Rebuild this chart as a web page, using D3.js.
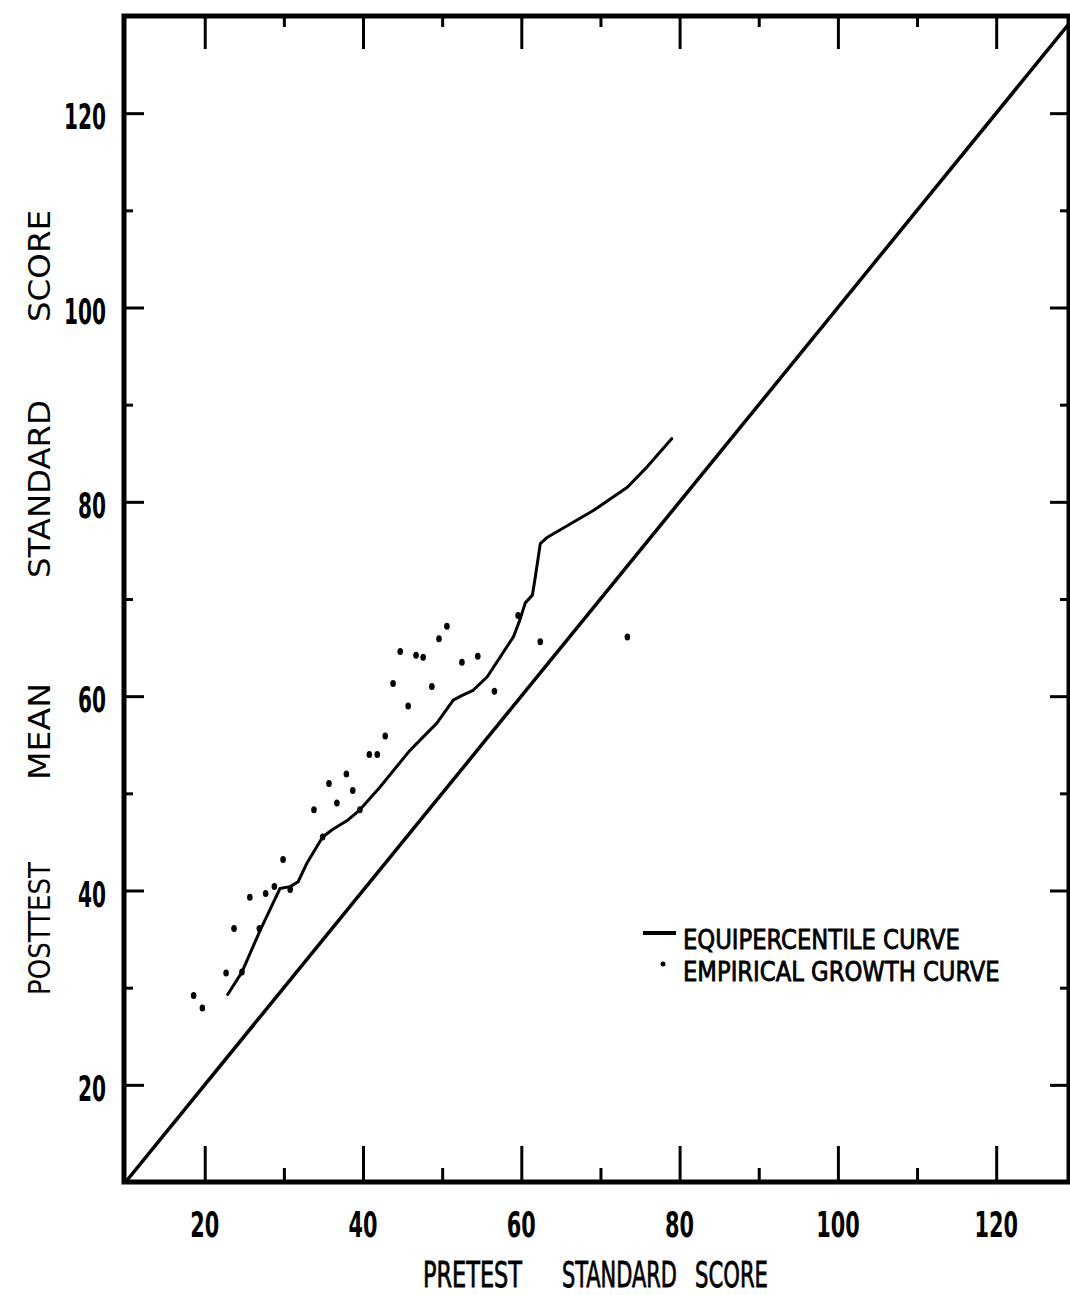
<!DOCTYPE html>
<html>
<head>
<meta charset="utf-8">
<script src="https://cdn.jsdelivr.net/npm/d3@7"></script>
<style>
  html, body { margin: 0; padding: 0; background: #fff; }
  svg { display: block; }
  text { fill: #000; }
</style>
</head>
<body>
<script>
// Equipercentile curve: pretest score -> posttest mean score
const equipercentilePretest  = [22.9, 24.7, 27.0, 29.5, 30.8, 31.8, 32.9, 34.9, 36.2, 38.0, 39.6, 42.1, 45.9, 49.3, 51.4, 52.6, 53.9, 55.7, 59.0, 59.8, 60.5, 61.4, 61.7, 62.4, 63.2, 69.1, 73.4, 75.9, 79.0];
const equipercentilePosttest = [29.3, 31.6, 35.9, 40.2, 40.4, 40.9, 42.8, 45.5, 46.3, 47.2, 48.3, 50.6, 54.4, 57.2, 59.6, 60.1, 60.6, 62.0, 66.1, 67.8, 69.6, 70.4, 71.9, 75.7, 76.3, 79.1, 81.5, 83.6, 86.5];

// Empirical growth curve: observed posttest means
const empiricalPretest  = [18.6, 19.7, 22.7, 24.7, 23.7, 26.9, 25.7, 27.7, 28.8, 29.9, 30.8, 34.9, 33.8, 36.7, 35.7, 37.9, 38.7, 39.6, 40.8, 41.8, 42.8, 45.7, 43.8, 48.7, 44.7, 46.7, 47.6, 49.6, 50.6, 52.5, 54.5, 56.6, 59.6, 62.4, 73.4];
const empiricalPosttest = [29.2, 27.9, 31.5, 31.6, 36.1, 36.1, 39.3, 39.7, 40.4, 43.2, 40.1, 45.5, 48.3, 49.0, 51.0, 52.0, 50.3, 48.3, 54.0, 54.0, 55.9, 59.0, 61.3, 61.0, 64.6, 64.2, 64.0, 65.9, 67.2, 63.5, 64.1, 60.5, 68.3, 65.6, 66.1];

// Axis ticks
const majorTicks = [20, 40, 60, 80, 100, 120];
const minorTicks = [30, 50, 70, 90, 110];
const tickLabels = ["20", "40", "60", "80", "100", "120"];

// Legend entries
const legendLabels = ["EQUIPERCENTILE  CURVE", "EMPIRICAL  GROWTH  CURVE"];

// Identity reference line (posttest = pretest)
const identityLine = [10, 130];

const W = 1070, H = 1295;
const svg = d3.select("body").append("svg").attr("width", W).attr("height", H);

const plotLeft = 124, plotRight = 1069, plotTop = 16, plotBottom = 1182;
const x = d3.scaleLinear().domain([9.8, 129.2]).range([plotLeft, plotRight]);
const y = d3.scaleLinear().domain([10, 130]).range([plotBottom, plotTop]);

const CONDENSED = '"DejaVu Sans Condensed", "Liberation Sans Narrow", "Liberation Sans", sans-serif';
const LETTERING = '"DejaVu Sans", "Liberation Sans", sans-serif';

// Place a text so that it spans exactly `width` pixels, compressing the glyphs horizontally.
function fitText(parent, str, px, py, opts) {
  const { size, width, anchor = "start", weight = "normal", family = CONDENSED, rot = 0, stroke = 0 } = opts;
  const g = parent.append("g");
  const t = g.append("text")
    .style("font-family", family).style("font-size", size + "px").style("font-weight", weight)
    .attr("text-anchor", anchor)
    .text(str);
  if (stroke) t.attr("stroke", "#000").attr("stroke-width", stroke);
  const natural = t.node().getComputedTextLength();
  g.attr("transform", `translate(${px},${py}) rotate(${rot}) scale(${width / natural},1)`);
  return g;
}

svg.append("clipPath").attr("id", "plot")
  .append("rect").attr("x", plotLeft).attr("y", plotTop)
  .attr("width", plotRight - plotLeft).attr("height", plotBottom - plotTop);

// Tick marks on all four sides, pointing inward
function ticks(axis, values, size, transform) {
  const g = svg.append("g").attr("transform", transform)
    .call(axis.tickValues(values).tickSize(size).tickFormat(""));
  g.select(".domain").remove();
  g.selectAll(".tick line").attr("stroke", "#000").attr("stroke-width", 3);
  g.selectAll(".tick text").remove();
}
ticks(d3.axisBottom(x), majorTicks, 33, `translate(0,${plotTop})`);
ticks(d3.axisBottom(x), minorTicks, 11, `translate(0,${plotTop})`);
ticks(d3.axisTop(x), majorTicks, 36, `translate(0,${plotBottom})`);
ticks(d3.axisTop(x), minorTicks, 14, `translate(0,${plotBottom})`);
ticks(d3.axisRight(y), majorTicks, 20, `translate(${plotLeft},0)`);
ticks(d3.axisRight(y), minorTicks, 9, `translate(${plotLeft},0)`);
ticks(d3.axisLeft(y), majorTicks, 19, `translate(${plotRight},0)`);
ticks(d3.axisLeft(y), minorTicks, 9, `translate(${plotRight},0)`);

// Frame
svg.append("rect").attr("x", plotLeft).attr("y", plotTop)
  .attr("width", plotRight - plotLeft).attr("height", plotBottom - plotTop)
  .attr("fill", "none").attr("stroke", "#000").attr("stroke-width", 5);

// Tick labels
const xLabels = svg.append("g");
majorTicks.forEach((v, i) => {
  fitText(xLabels, tickLabels[i], x(v), 1237,
    { size: 36, width: tickLabels[i].length * 14.5, anchor: "middle", weight: "bold" });
});
const yLabels = svg.append("g");
majorTicks.forEach((v, i) => {
  fitText(yLabels, tickLabels[i], 106, y(v) + 16,
    { size: 36, width: tickLabels[i].length * 14, anchor: "end", weight: "bold" });
});

// Axis titles
const xTitle = svg.append("g");
[["PRETEST", 423, 99], ["STANDARD", 562, 115], ["SCORE", 695, 73]].forEach(d => {
  fitText(xTitle, d[0], d[1], 1287, { size: 36, width: d[2], stroke: 0.8 });
});
const yTitle = svg.append("g");
[["POSTTEST", 995, 133], ["MEAN", 780, 97], ["STANDARD", 578, 178], ["SCORE", 322, 112]].forEach(d => {
  fitText(yTitle, d[0], 50, d[1], { size: 30, width: d[2], family: LETTERING, rot: -90 });
});

// Plot contents
const plot = svg.append("g").attr("clip-path", "url(#plot)");

plot.append("line")
  .attr("x1", x(identityLine[0])).attr("y1", y(identityLine[0]))
  .attr("x2", x(identityLine[1])).attr("y2", y(identityLine[1]))
  .attr("stroke", "#000").attr("stroke-width", 3.5);

const curve = equipercentilePretest.map((p, i) => [p, equipercentilePosttest[i]]);
plot.append("path")
  .datum(curve)
  .attr("d", d3.line().x(d => x(d[0])).y(d => y(d[1])))
  .attr("fill", "none").attr("stroke", "#000").attr("stroke-width", 3)
  .attr("stroke-linejoin", "round").attr("stroke-linecap", "round");

plot.append("g").selectAll("ellipse").data(empiricalPretest).join("ellipse")
  .attr("cx", d => x(d)).attr("cy", (d, i) => y(empiricalPosttest[i]))
  .attr("rx", 2.8).attr("ry", 3.5).attr("fill", "#000");

// Legend: symbols, then both labels as one two-line text block
const legend = svg.append("g");
legend.append("line").attr("x1", 643).attr("x2", 676).attr("y1", 933).attr("y2", 933)
  .attr("stroke", "#000").attr("stroke-width", 4);
legend.append("circle").attr("cx", 663).attr("cy", 964).attr("r", 2.5).attr("fill", "#000");

const legendBlock = legend.append("g");
const legendText = legendBlock.append("text")
  .style("font-family", CONDENSED).style("font-size", "27px")
  .attr("stroke", "#000").attr("stroke-width", 0.8);
legendText.selectAll("tspan").data(legendLabels).join("tspan")
  .attr("x", 0).attr("y", (d, i) => i * 32)
  .text(d => d);
const legendNatural = d3.max(legendText.selectAll("tspan").nodes(), n => n.getComputedTextLength());
legendBlock.attr("transform", `translate(683,949) scale(${317 / legendNatural},1)`);
</script>
</body>
</html>
